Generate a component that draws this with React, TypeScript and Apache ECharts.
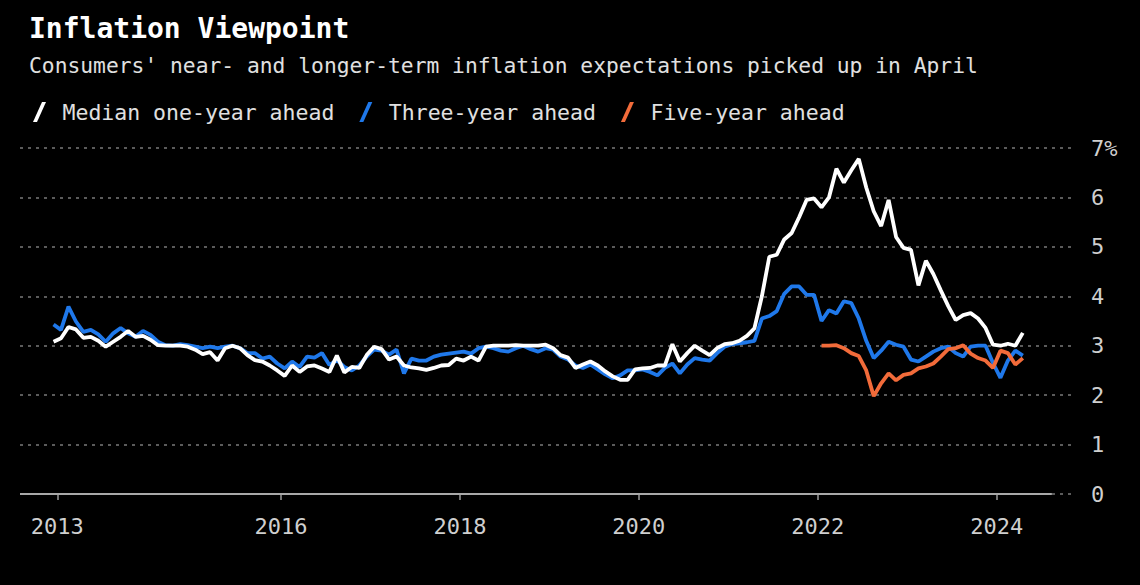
import React, { useEffect, useRef } from "react";
import * as echarts from "echarts";

// ---- Data (monthly, NY Fed Survey of Consumer Expectations) ----
const seriesStart = { year: 2013, month: 6 }; // June 2013
const oneYearAhead = [
  3.08, 3.15, 3.38, 3.33, 3.16, 3.18, 3.1, 2.98, 3.08, 3.18,
  3.3, 3.18, 3.2, 3.12, 3.01, 3.0, 3.0, 3.0, 2.98, 2.92,
  2.83, 2.87, 2.7, 2.95, 3.0, 2.95, 2.81, 2.71, 2.68, 2.6,
  2.5, 2.39, 2.6, 2.47, 2.58, 2.6, 2.54, 2.47, 2.8, 2.46,
  2.57, 2.55, 2.81, 2.98, 2.93, 2.72, 2.78, 2.6, 2.56, 2.54,
  2.51, 2.55, 2.6, 2.61, 2.74, 2.7, 2.78, 2.7, 2.98, 3.0,
  3.0, 3.0, 3.01, 3.0, 3.0, 3.0, 3.02, 2.95, 2.81, 2.76,
  2.55, 2.62, 2.68, 2.6, 2.48, 2.38, 2.31, 2.31, 2.52, 2.54,
  2.55, 2.6, 2.6, 3.03, 2.68, 2.85, 3.0, 2.9, 2.81, 2.95,
  3.03, 3.05, 3.1, 3.2, 3.35, 4.0, 4.8, 4.84, 5.15, 5.28,
  5.6, 5.95, 5.98, 5.8, 6.0, 6.58, 6.3, 6.55, 6.78, 6.2,
  5.72, 5.42, 5.95, 5.2, 4.98, 4.94, 4.22, 4.72, 4.45, 4.12,
  3.8, 3.52, 3.62, 3.66, 3.55, 3.36, 3.02, 3.0, 3.04, 3.0,
  3.26,
];
const threeYearAhead = [
  3.43, 3.32, 3.79, 3.49, 3.28, 3.32, 3.23, 3.08, 3.25, 3.36,
  3.25, 3.18, 3.3, 3.22, 3.08, 3.01, 3.0, 3.03, 3.01, 2.98,
  2.95, 2.98, 2.95, 2.98, 3.0, 2.95, 2.85, 2.85, 2.74, 2.78,
  2.64, 2.54, 2.68, 2.57, 2.78, 2.76, 2.85, 2.61, 2.71, 2.57,
  2.5, 2.6, 2.78, 2.92, 2.9, 2.82, 2.92, 2.44, 2.74, 2.7,
  2.7, 2.78, 2.82, 2.84, 2.86, 2.88, 2.84, 2.95, 2.98, 2.95,
  2.9, 2.88, 2.95, 3.0, 2.93, 2.88, 2.95, 2.92, 2.78, 2.72,
  2.6, 2.55, 2.62, 2.52, 2.42, 2.34, 2.4, 2.5, 2.5, 2.52,
  2.47, 2.4, 2.55, 2.64, 2.44, 2.62, 2.75, 2.72, 2.7, 2.85,
  2.98, 3.03, 3.05, 3.07, 3.1, 3.55, 3.6, 3.7, 4.05, 4.2,
  4.2, 4.03, 4.03, 3.5, 3.72, 3.65, 3.9, 3.86, 3.55, 3.1,
  2.75, 2.9, 3.08, 3.02, 2.98, 2.72, 2.68, 2.78, 2.88, 2.95,
  2.98, 2.85, 2.78, 2.98, 3.0, 3.0, 2.65, 2.35, 2.7, 2.9,
  2.8,
];
const fiveYearStart = { year: 2022, month: 1 }; // January 2022
const fiveYearAhead = [
  3.0, 3.0, 3.01, 2.95, 2.85, 2.79, 2.5, 1.98, 2.24, 2.44,
  2.3, 2.41, 2.44, 2.54, 2.58, 2.64, 2.78, 2.93, 2.95, 3.01,
  2.84, 2.75, 2.7, 2.55, 2.9, 2.85, 2.62, 2.75,
];
const xTickMonths = ["2013-07", "2016-01", "2018-01", "2020-01", "2022-01", "2024-01"];
const yTickValues = [0, 1, 2, 3, 4, 5, 6, 7];

const seriesNames = ["Median one-year ahead", "Three-year ahead", "Five-year ahead"];
const seriesColors = ["#ffffff", "#1f78ea", "#f26b3a"];

// months since Jan 2013
const monthIndex = (year: number, month: number) => (year - 2013) * 12 + (month - 1);
const toPoints = (start: { year: number; month: number }, vals: number[]) => {
  const base = monthIndex(start.year, start.month);
  return vals.map((v, i) => [base + i + 0.5, v]);
};
const tickValues = xTickMonths.map((s) => {
  const [y, m] = s.split("-").map(Number);
  return monthIndex(y, m);
});

const FONT = "'DejaVu Sans Mono', 'Liberation Mono', monospace";

export default function App() {
  const ref = useRef<HTMLDivElement>(null);
  useEffect(() => {
    document.body.style.margin = "0";
    document.body.style.background = "#000";
    const chart = echarts.init(ref.current!, null, { renderer: "svg" });
    const slash = "path://M0,20 L9,0 L13,0 L4,20 Z";
    chart.setOption({
      animation: false,
      backgroundColor: "#000000",
      title: [
        {
          text: "Inflation Viewpoint",
          left: 24,
          top: 9,
          textStyle: { color: "#ffffff", fontFamily: FONT, fontWeight: "bold", fontSize: 28 },
        },
        {
          text: "Consumers' near- and longer-term inflation expectations picked up in April",
          left: 24,
          top: 50,
          textStyle: { color: "#e0e0e0", fontFamily: FONT, fontWeight: "normal", fontSize: 21.3 },
        },
      ],
      legend: {
        left: 28,
        top: 96,
        itemWidth: 14,
        itemHeight: 20,
        itemGap: 25,
        data: seriesNames.map((n) => ({ name: n, icon: slash })),
        textStyle: { color: "#e0e0e0", fontFamily: FONT, fontSize: 21.5, padding: [0, 0, 0, 11] },
        selectedMode: false,
      },
      grid: { left: 20, right: 65, top: 148, bottom: 91, containLabel: false },
      xAxis: {
        type: "value",
        min: 1,
        max: 142.5,
        axisLine: { show: false },
        splitLine: { show: false },
        axisTick: {
          show: true,
          customValues: tickValues,
          length: 6,
          lineStyle: { color: "#9a9a9a", width: 1.5 },
        },
        axisLabel: {
          customValues: tickValues,
          formatter: (v: number) => String(2013 + Math.floor(v / 12)),
          color: "#cfcfcf",
          fontFamily: FONT,
          fontSize: 22,
          margin: 21,
        },
      },
      yAxis: {
        type: "value",
        position: "right",
        min: 0,
        max: 7,
        interval: 1,
        axisLine: { show: false },
        axisTick: { show: false },
        splitLine: { show: true, lineStyle: { color: "#7a7a7a", type: [3, 5], width: 1.5 } },
        axisLabel: {
          customValues: yTickValues,
          formatter: (v: number) => (v === 7 ? "7%" : String(v)),
          color: "#cfcfcf",
          fontFamily: FONT,
          fontSize: 22,
          margin: 16,
        },
      },
      series: [
        {
          name: seriesNames[0],
          type: "line",
          z: 5,
          showSymbol: false,
          data: toPoints(seriesStart, oneYearAhead),
          itemStyle: { color: seriesColors[0] },
          lineStyle: { color: seriesColors[0], width: 3.8 },
          markLine: {
            silent: true,
            symbol: "none",
            label: { show: false },
            lineStyle: { color: "#a8a8a8", width: 2, type: "solid" },
            data: [[{ coord: [1, 0] }, { coord: [139.4, 0] }]],
          },
        },
        {
          name: seriesNames[1],
          type: "line",
          z: 3,
          showSymbol: false,
          data: toPoints(seriesStart, threeYearAhead),
          itemStyle: { color: seriesColors[1] },
          lineStyle: { color: seriesColors[1], width: 3.8 },
        },
        {
          name: seriesNames[2],
          type: "line",
          z: 4,
          showSymbol: false,
          data: toPoints(fiveYearStart, fiveYearAhead),
          itemStyle: { color: seriesColors[2] },
          lineStyle: { color: seriesColors[2], width: 3.8 },
        },
      ],
    });
    return () => chart.dispose();
  }, []);
  return (
    <div
      ref={ref}
      style={{ position: "fixed", left: 0, top: 0, width: 1140, height: 585, background: "#000" }}
    />
  );
}
